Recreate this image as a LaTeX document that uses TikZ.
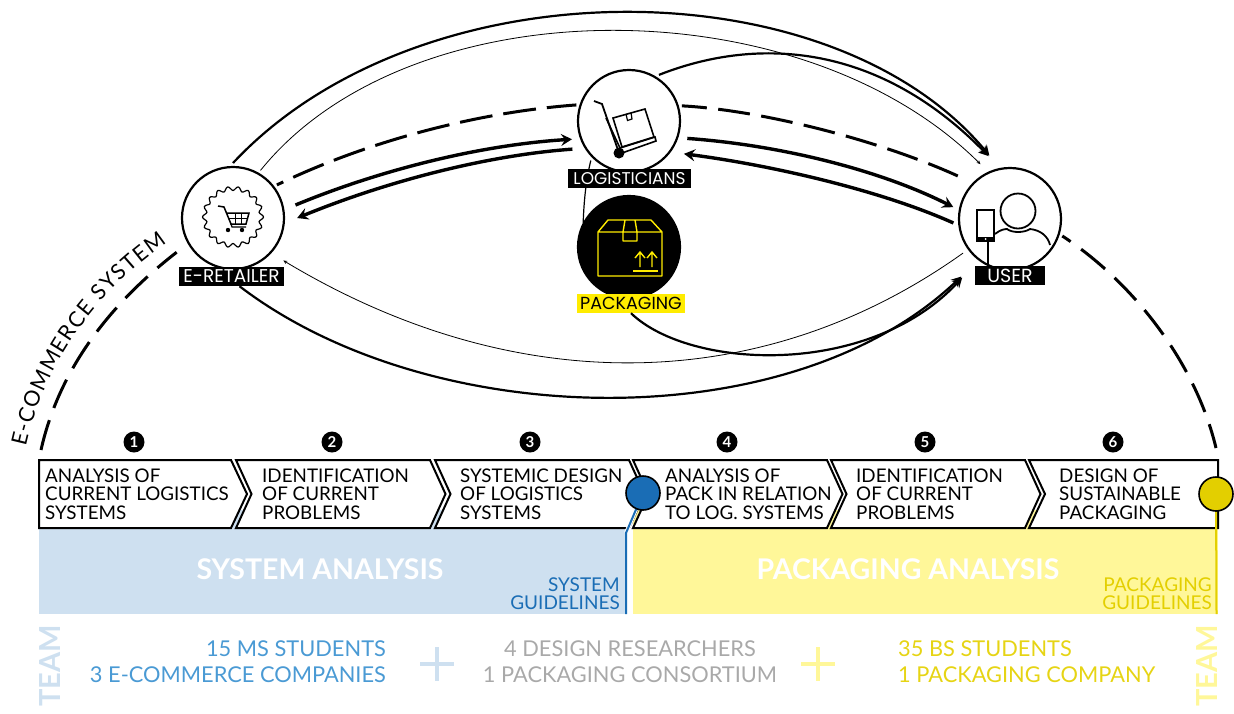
\documentclass[tikz,border=0pt]{standalone}
\usepackage{fontspec}
\setmainfont{Lato}
\newfontfamily\labelfont{Poppins}
\usetikzlibrary{arrows.meta,decorations.text}
\definecolor{bandblue}{HTML}{CEE0F0}
\definecolor{bandyellow}{HTML}{FFF799}
\definecolor{dotblue}{HTML}{1A6DB5}
\definecolor{dotyellow}{HTML}{E3CF00}
\definecolor{teamblue}{HTML}{4A9AD4}
\definecolor{teamgray}{HTML}{A9A9A9}
\definecolor{teamyellow}{HTML}{E6D414}
\definecolor{tagyellow}{HTML}{FFEC00}
\tikzset{
  hub/.style={circle,draw,line width=2.2pt,minimum size=102pt,inner sep=0pt,outer sep=4pt},
  hublabel/.style={fill=black,text=white,font=\labelfont\fontsize{#1}{#1}\selectfont,inner sep=0pt,minimum height=19pt},
  thinflow/.style={line width=0.8pt,-{Stealth[length=4pt,width=3.5pt]}},
  thickflow/.style={line width=2.2pt,-{Stealth[length=10pt,width=10pt,inset=3.5pt]}},
  mainflow/.style={line width=3.4pt,-{Stealth[length=11pt,width=12pt,inset=4pt]}},
  stepbox/.style={draw,fill=white,line width=2pt,miter limit=10},
  steptext/.style={anchor=west,align=left,inner sep=0pt,font=\fontsize{18.8}{18.4}\selectfont},
  stepnum/.style={circle,fill=black,text=white,inner sep=0pt,minimum size=21pt,font=\bfseries\fontsize{15}{15}\selectfont},
  guidetext/.style={anchor=east,align=right,inner sep=0pt,font=\fontsize{19}{18}\selectfont},
  teamtext/.style={inner sep=0pt,font=\fontsize{21.8}{26}\selectfont},
  bandtitle/.style={text=white,inner sep=0pt,font=\bfseries\fontsize{28.5}{28.5}\selectfont},
  teamside/.style={rotate=90,inner sep=0pt,font=\bfseries\fontsize{29}{29}\selectfont},
  stagedot/.style={circle,draw,line width=1.6pt,minimum size=34pt,inner sep=0pt},
}
\begin{document}
\begin{tikzpicture}[x=1pt,y=-1pt]
\useasboundingbox (0,0) rectangle (1234,713);

% bands
\fill[bandblue] (39,510) rectangle (625,614);
\fill[bandyellow] (633,510) rectangle (1218,614);

% steps
\draw[stepbox] (39,460) -- (231,460) -- (247,494) -- (231,528) -- (39,528) -- cycle;
\foreach \x in {236,435,633,831}
  \draw[stepbox] (\x,460) -- ++(194,0) -- ++(15.5,34) -- ++(-15.5,34) -- ++(-194,0) -- ++(15.5,-34) -- cycle;
\draw[stepbox] (1029,460) -- (1218,460) -- (1218,528) -- (1029,528) -- (1045,494) -- cycle;

\foreach \i/\x in {1/134,2/332,3/530,4/727,5/925,6/1113}
  \node[stepnum] (num\i) at (\x,442) {\i};

\node[steptext] (step1) at (45,494) {ANALYSIS OF\\CURRENT LOGISTICS\\SYSTEMS};
\node[steptext] (step2) at (262,494) {IDENTIFICATION\\OF CURRENT\\PROBLEMS};
\node[steptext] (step3) at (460,494) {SYSTEMIC DESIGN\\OF LOGISTICS\\SYSTEMS};
\node[steptext] (step4) at (665,494) {ANALYSIS OF\\PACK IN RELATION\\TO LOG. SYSTEMS};
\node[steptext] (step5) at (856,494) {IDENTIFICATION\\OF CURRENT\\PROBLEMS};
\node[steptext] (step6) at (1059,494) {DESIGN OF\\SUSTAINABLE\\PACKAGING};

% stage ends
\coordinate (bluecentre) at (643,493);
\coordinate (bluebend) at (626,533);
\coordinate (blueend) at (626,614);
\coordinate (yellowcentre) at (1216,494);
\coordinate (yellowend) at (1216.5,614);
\draw[white,line width=4pt] (bluecentre) -- (bluebend);
\draw[dotblue,line width=2pt] (bluecentre) -- (bluebend) -- (blueend);
\draw[dotyellow,line width=2pt] (yellowcentre) -- (yellowend);
\node[stagedot,fill=dotblue] (bluedot) at (bluecentre) {};
\node[stagedot,fill=dotyellow] (yellowdot) at (yellowcentre) {};

\node[bandtitle] (systemband) at (320,569) {SYSTEM ANALYSIS};
\node[bandtitle] (packband) at (908,569) {PACKAGING ANALYSIS};
\node[guidetext,text=dotblue] (systemguide) at (620,594) {SYSTEM\\GUIDELINES};
\node[guidetext,text=dotyellow] (packguide) at (1212,594) {PACKAGING\\GUIDELINES};

% team
\node[teamside,text=bandblue] (teamleft) at (50,666) {TEAM};
\node[teamside,text=bandyellow] (teamright) at (1207,666) {TEAM};
\node[teamtext,text=teamblue,align=right,anchor=east] (teamsystem) at (386,662) {15 MS STUDENTS\\3 E-COMMERCE COMPANIES};
\node[teamtext,text=teamgray,align=center] (teamdesign) at (630,662) {4 DESIGN RESEARCHERS\\1 PACKAGING CONSORTIUM};
\node[teamtext,text=teamyellow,align=left,anchor=west] (teampack) at (898,662) {35 BS STUDENTS\\1 PACKAGING COMPANY};
\foreach \x/\c in {437/bandblue,818/bandyellow}
  \draw[\c,line width=4.5pt] (\x-17,664) -- (\x+17,664) (\x,647) -- (\x,681);

% actors
\node[hub] (retailer) at (233,218) {};
\node[hub] (logistician) at (629,121) {};
\node[hub,fill=black] (packaging) at (629,247) {};
\node[hub] (user) at (1010,219) {};

\draw[line width=1.2pt,shorten >=-7pt] (logistician.226) .. controls (586,180) and (584,200) .. (packaging.146);

\node[hublabel=18.5,minimum width=105pt] (retailertag) at (231.5,276.5) {E-RETAILER};
\node[hublabel=17,minimum width=123pt] (logistag) at (629.5,178.5) {LOGISTICIANS};
\node[hublabel=17.5,minimum width=108pt,fill=tagyellow,text=black] (packtag) at (631,303.5) {PACKAGING};
\node[hublabel=19,minimum width=70pt] (usertag) at (1010,275.5) {USER};

% flows
\draw[thickflow,shorten >=13pt] (retailer.90) .. controls (420,-37) and (830,-36) .. (user.103);
\draw[thinflow,shorten >=7.6pt] (retailer.60) .. controls (410,-15) and (800,-15) .. (user.116);
\draw[thickflow,shorten >=13pt] (logistician.57) .. controls (760,35) and (880,45) .. (user.103);
\draw[line width=3pt,dash pattern=on 33pt off 11pt,dash phase=26pt] (retailer.37) .. controls (370,140) and (480,112) .. (logistician.163);
\draw[line width=3pt,dash pattern=on 32pt off 11.5pt,dash phase=7pt,shorten >=10pt] (logistician.16) .. controls (760,110) and (880,140) .. (user.137);
\draw[mainflow,shorten <=9pt,shorten >=5pt] (retailer.10) .. controls (380,170) and (480,145) .. (logistician.199);
\draw[mainflow,shorten <=9pt,shorten >=10pt] (logistician.210) .. controls (490,155) and (390,180) .. (retailer.-4);
\draw[mainflow,shorten <=6pt,shorten >=3pt] (logistician.-18) .. controls (780,145) and (880,170) .. (user.169);
\draw[mainflow,shorten <=2pt,shorten >=10pt] (user.185) .. controls (880,190) and (770,165) .. (logistician.-35);
\draw[thinflow,shorten <=3pt,shorten >=11pt] (user.216) .. controls (760,398) and (512,398) .. (retailer.-42);
\draw[thickflow,shorten >=20.6pt] ([xshift=8pt]retailertag.south) .. controls (430,432) and (790,440) .. (user.232);
\draw[thickflow,shorten >=20.6pt] (packtag.south) .. controls (690,370) and (870,378) .. (user.232);

% system outline
\coordinate (outerleft) at (41,450);
\coordinate (outerright) at (1216,448);
\draw[line width=3pt,dash pattern=on 31pt off 13pt,shorten >=11pt] (outerleft) .. controls (60,365) and (115,300) .. (retailer.210);
\draw[line width=3pt,dash pattern=on 31pt off 13pt,dash phase=21pt] (user.-18) .. controls (1130,280) and (1195,360) .. (outerright);
\path[decorate,decoration={text along path,text align=fit to path,
  text={|\fontsize{21.5}{21.5}\selectfont|E-COMMERCE SYSTEM}}]
  (26,447) .. controls (45,360) and (101,288) .. (167,243);

% cart icon
\draw[line width=1.2pt,domain=0:360,samples=145,smooth] plot ({233+(28.5+2*cos(18*\x))*cos(\x)},{217+(28.5+2*cos(18*\x))*sin(\x)}) -- cycle;
\draw[line width=1.5pt] (218,206) -- (224,207) -- (231,224) -- (246,224) -- (249,213) -- (226,213);
\draw[line width=1pt] (228,218.5) -- (248,218.5) (235,213) -- (235,224) (241,213) -- (241,224);
\draw[line width=1.2pt] (231,224) -- (232,227) -- (246,227);
\fill (228,230) circle (2.2pt) (242,230) circle (2.2pt);

% trolley icon
\draw[line width=1.8pt] (594,101) -- (602,104) -- (618,150);
\draw[line width=1.6pt] (606,118) -- (620,148) -- (655,137) -- (656,141) -- (622,153);
\draw[line width=1.6pt] (613,118) -- (645,109) -- (654,137) -- (622,147) -- cycle;
\draw[line width=1.2pt] (626,114) -- (627.5,120.5) -- (632,119) -- (631,112.5);
\fill (619,153) circle (5.5pt);

% box icon
\draw[tagyellow,line width=1.4pt,line join=round] (598,232) -- (662,232) -- (662,276) -- (598,276) -- cycle
  (598,232) -- (608,220) -- (651,220) -- (662,232)
  (625,220) -- (623,232) -- (623,241) -- (637,241) -- (637,232) -- (635,220);
\draw[tagyellow,line width=1.4pt] (633,271) -- (658,271);
\foreach \x in {640,652}
  \draw[tagyellow,line width=1.4pt] (\x,267) -- (\x,253) (\x-5,258) -- (\x,252) -- (\x+5,258);

% user icon
\draw[line width=1.8pt] (1018,211) circle (17.5pt);
\draw[line width=1.8pt] (995,234) .. controls (1000,230) and (1004,229) .. (1007,229) .. controls (1012,233) and (1024,233) .. (1030,229) .. controls (1040,230) and (1048,236) .. (1050,245);
\draw[line width=1.6pt] (977,210) rectangle (994,241);
\fill (977,237) rectangle (994,241);
\fill[white] (985.5,239) circle (1pt);
\draw[line width=1.6pt] (988,241) -- (988,264);
\end{tikzpicture}
\end{document}
